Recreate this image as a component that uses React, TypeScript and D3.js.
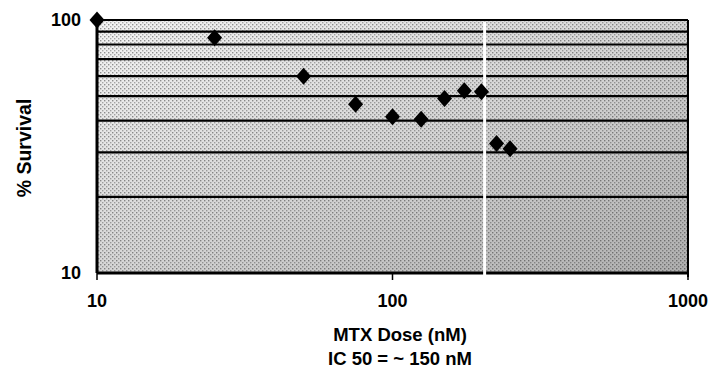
import React from "react";
import * as d3 from "d3";

const doses = [10, 25, 50, 75, 100, 125, 150, 175, 200, 225, 250];
const survival = [100, 85, 60, 46.5, 41.5, 40.5, 49, 52.5, 52, 32.5, 31];
const gridValues = [20, 30, 40, 50, 60, 70, 80, 90];
const xTicks = [10, 100, 1000];
const yTicks = [10, 100];
const gapDose = [205];

const W = 715, H = 370;
const M = { left: 97, top: 20, right: 688, bottom: 273 };

export default function App() {
  const x = d3.scaleLog().domain([10, 1000]).range([M.left, M.right]);
  const y = d3.scaleLog().domain([10, 100]).range([M.bottom, M.top]);
  const font = "'Liberation Sans', Arial, sans-serif";
  const diamond = (cx: number, cy: number) =>
    `M${cx},${cy - 8.5}L${cx + 7.5},${cy}L${cx},${cy + 8.5}L${cx - 7.5},${cy}Z`;
  return (
    <svg width={W} height={H} style={{ position: "absolute", left: 0, top: 0 }}>
      <defs>
        <linearGradient id="bg" x1="0" y1="0" x2="1" y2="1">
          <stop offset="0" stopColor="#f4f4f4" />
          <stop offset="0.5" stopColor="#d6d6d6" />
          <stop offset="1" stopColor="#b0b0b0" />
        </linearGradient>
        <pattern id="dots" width="4" height="4" patternUnits="userSpaceOnUse">
          <rect x="0" y="0" width="1.4" height="1.4" fill="#000" opacity="0.4" />
          <rect x="2" y="2" width="1.4" height="1.4" fill="#000" opacity="0.3" />
        </pattern>
      </defs>
      <rect width={W} height={H} fill="#fff" />
      <rect x={M.left} y={M.top} width={M.right - M.left} height={M.bottom - M.top} fill="url(#bg)" />
      <rect x={M.left} y={M.top} width={M.right - M.left} height={M.bottom - M.top} fill="url(#dots)" />
      {gridValues.map((v) => (
        <line key={v} x1={M.left} x2={M.right} y1={y(v)} y2={y(v)} stroke="#000" strokeWidth={2.2} />
      ))}
      {/* frame */}
      <line x1={M.left} x2={M.right} y1={M.top} y2={M.top} stroke="#000" strokeWidth={2} />
      <line x1={M.right} x2={M.right} y1={M.top} y2={M.bottom + 4} stroke="#000" strokeWidth={2} />
      <line x1={M.left} x2={M.left} y1={M.top} y2={M.bottom} stroke="#000" strokeWidth={3} />
      <line x1={M.left} x2={M.right} y1={M.bottom} y2={M.bottom} stroke="#000" strokeWidth={3} />
      {gapDose.map((g) => (
        <line key={g} x1={x(g)} x2={x(g)} y1={M.top + 2} y2={M.bottom + 2} stroke="#fff" strokeWidth={3} />
      ))}
      {xTicks.map((t) => (
        <g key={t}>
          <line x1={x(t)} x2={x(t)} y1={M.bottom} y2={M.bottom + 7} stroke="#000" strokeWidth={1.5} />
          <text x={x(t)} y={307} textAnchor="middle" fontFamily={font} fontWeight="bold" fontSize={18}>
            {t}
          </text>
        </g>
      ))}
      {yTicks.map((t) => (
        <text key={t} x={81} y={y(t) + 6} textAnchor="end" fontFamily={font} fontWeight="bold" fontSize={18}>
          {t}
        </text>
      ))}
      {doses.map((d, i) => (
        <path key={i} d={diamond(x(d), y(survival[i]))} fill="#000" />
      ))}
      <text x={400} y={341} textAnchor="middle" fontFamily={font} fontWeight="bold" fontSize={18.5}>
        MTX Dose (nM)
      </text>
      <text x={400} y={365} textAnchor="middle" fontFamily={font} fontWeight="bold" fontSize={18.5}>
        IC 50 = ~ 150 nM
      </text>
      <text
        transform={`translate(31,148) rotate(-90)`}
        textAnchor="middle"
        fontFamily={font}
        fontWeight="bold"
        fontSize={19.5}
      >
        % Survival
      </text>
    </svg>
  );
}
